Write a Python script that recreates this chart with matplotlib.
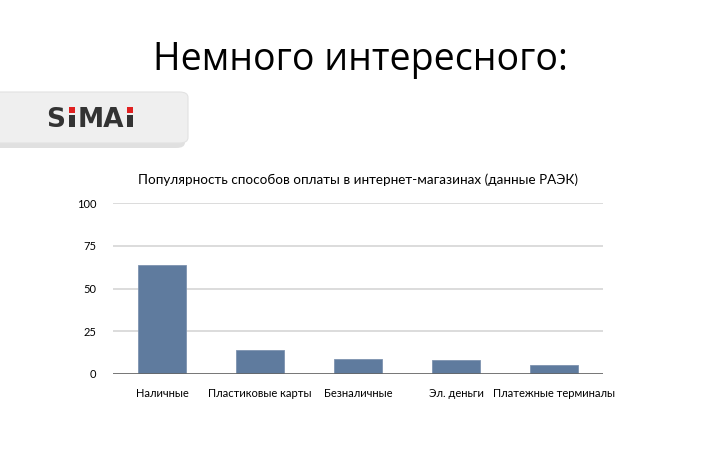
import matplotlib.pyplot as plt
from matplotlib.patches import FancyBboxPatch, Rectangle

# данные РАЭК
categories = ['Наличные', 'Пластиковые карты', 'Безналичные', 'Эл. деньги', 'Платежные терминалы']
values = [64, 14, 9, 8, 5]
yticks = [0, 25, 50, 75, 100]

W, H = 720, 450
fig = plt.figure(figsize=(7.2, 4.5), dpi=100)
fig.patch.set_facecolor('white')

def fx(px):
    return px / W

def fy(py):
    return 1 - py / H

# заголовок слайда
fig.text(0.5, fy(60), 'Немного интересного:', ha='center', va='center',
         fontsize=27, family='Open Sans', color='black')

# логотип SIMAI
shadow = FancyBboxPatch((fx(-20), fy(148)), fx(205), fy(97) - fy(148),
                        boxstyle='round,pad=0,rounding_size=0.012',
                        transform=fig.transFigure, facecolor='#d4d4d4',
                        edgecolor='none', alpha=0.7)
fig.patches.append(shadow)
box = FancyBboxPatch((fx(-20), fy(143)), fx(208), fy(92) - fy(143),
                     boxstyle='round,pad=0,rounding_size=0.012',
                     transform=fig.transFigure, facecolor='#efefef',
                     edgecolor='#e2e2e2', lw=0.8)
fig.patches.append(box)
logo_col = '#333333'
fig.text(fx(46), fy(127), 'S', fontsize=19, fontweight='bold', family='DejaVu Sans',
         color=logo_col, va='baseline', ha='left')
fig.text(fx(78), fy(127), 'MA', fontsize=19, fontweight='bold', family='DejaVu Sans',
         color=logo_col, va='baseline', ha='left')
for x0 in (69, 127):
    fig.patches.append(Rectangle((fx(x0), fy(127)), fx(6), fy(115) - fy(127),
                                 transform=fig.transFigure, facecolor=logo_col, edgecolor='none'))
    fig.patches.append(Rectangle((fx(x0), fy(113)), fx(6), fy(107) - fy(113),
                                 transform=fig.transFigure, facecolor='#e02020', edgecolor='none'))

# график
ax = fig.add_axes([fx(113), fy(374), fx(603) - fx(113), fy(203) - fy(374)])
x = range(len(categories))
ax.bar(x, values, width=0.48, color='#5f7b9e', edgecolor='#7d93b0', linewidth=0.6, zorder=3)
ax.set_xlim(-0.5, len(categories) - 0.5)
ax.set_ylim(0, 100)
ax.set_yticks(yticks)
ax.set_yticklabels([str(t) for t in yticks], fontsize=8, family='Lato')
ax.set_xticks(list(x))
ax.set_xticklabels(categories, fontsize=8, family='Lato')
ax.yaxis.grid(True, color='#d9d9d9', linewidth=1.3, zorder=0)
ax.axhline(0, color='#666666', linewidth=1.2, zorder=4)
for s in ax.spines.values():
    s.set_visible(False)
ax.tick_params(length=0, pad=10)
ax.tick_params(axis='y', pad=12)
ax.set_title('Популярность способов оплаты в интернет-магазинах (данные РАЭК)',
             fontsize=9.7, family='Lato', pad=14)

fig.savefig('out.png', dpi=100)
